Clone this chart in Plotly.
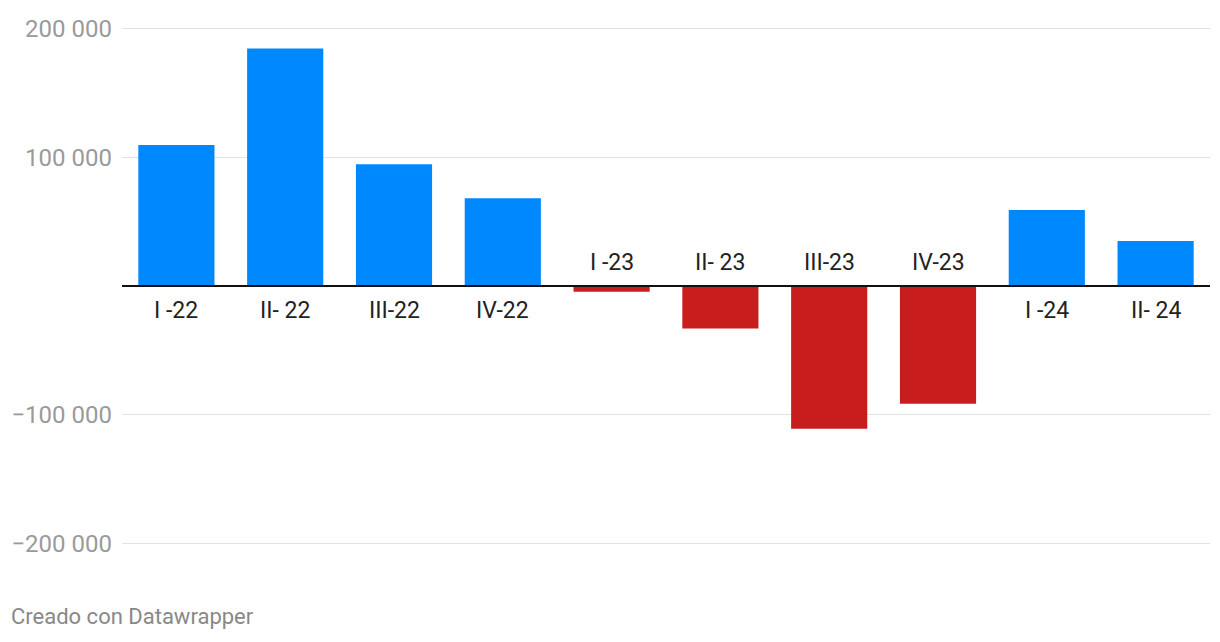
import plotly.graph_objects as go

categories = ["I -22", "II- 22", "III-22", "IV-22", "I -23", "II- 23", "III-23", "IV-23", "I -24", "II- 24"]
values = [109500, 184500, 94600, 68200, -4500, -33000, -110800, -91500, 59000, 35000]
tick_vals = [-200000, -100000, 100000, 200000]
tick_text = ["\u2212200 000", "\u2212100 000", "100 000", "200 000"]

BLUE = "#0088ff"
RED = "#c71e1d"
colors = [BLUE if v >= 0 else RED for v in values]

fig = go.Figure()
fig.add_trace(go.Bar(x=categories, y=values, marker=dict(color=colors, line=dict(width=0)),
                     width=0.7, hoverinfo="x+y"))

# zero line
fig.add_shape(type="line", xref="paper", yref="y", x0=0, x1=1, y0=0, y1=0,
              line=dict(color="#111111", width=2))

for c, v in zip(categories, values):
    fig.add_annotation(x=c, y=0, text=c, showarrow=False,
                       yshift=-24 if v >= 0 else 24,
                       font=dict(family="Roboto", size=23, color="#222222"),
                       xanchor="center", yanchor="middle")

fig.add_annotation(xref="paper", yref="paper", x=0, y=0, xshift=-113, yshift=-66,
                   text="Creado con Datawrapper", showarrow=False, xanchor="left", yanchor="middle",
                   font=dict(family="Roboto", size=22, color="#888888"))

fig.update_layout(
    width=1220, height=642,
    margin=dict(l=122, r=10, t=22, b=92),
    paper_bgcolor="white", plot_bgcolor="white",
    showlegend=False, bargap=0.3,
    xaxis=dict(showticklabels=False, showgrid=False, zeroline=False, showline=False, ticks=""),
    yaxis=dict(range=[-205000, 205000], tickmode="array", tickvals=tick_vals, ticktext=tick_text,
               showgrid=True, gridcolor="#e2e2e2", gridwidth=1, zeroline=False, showline=False,
               ticks="", ticklabelstandoff=9,
               tickfont=dict(family="Roboto", size=24, color="#9a9a9a")),
)

fig.write_html("out.html")
